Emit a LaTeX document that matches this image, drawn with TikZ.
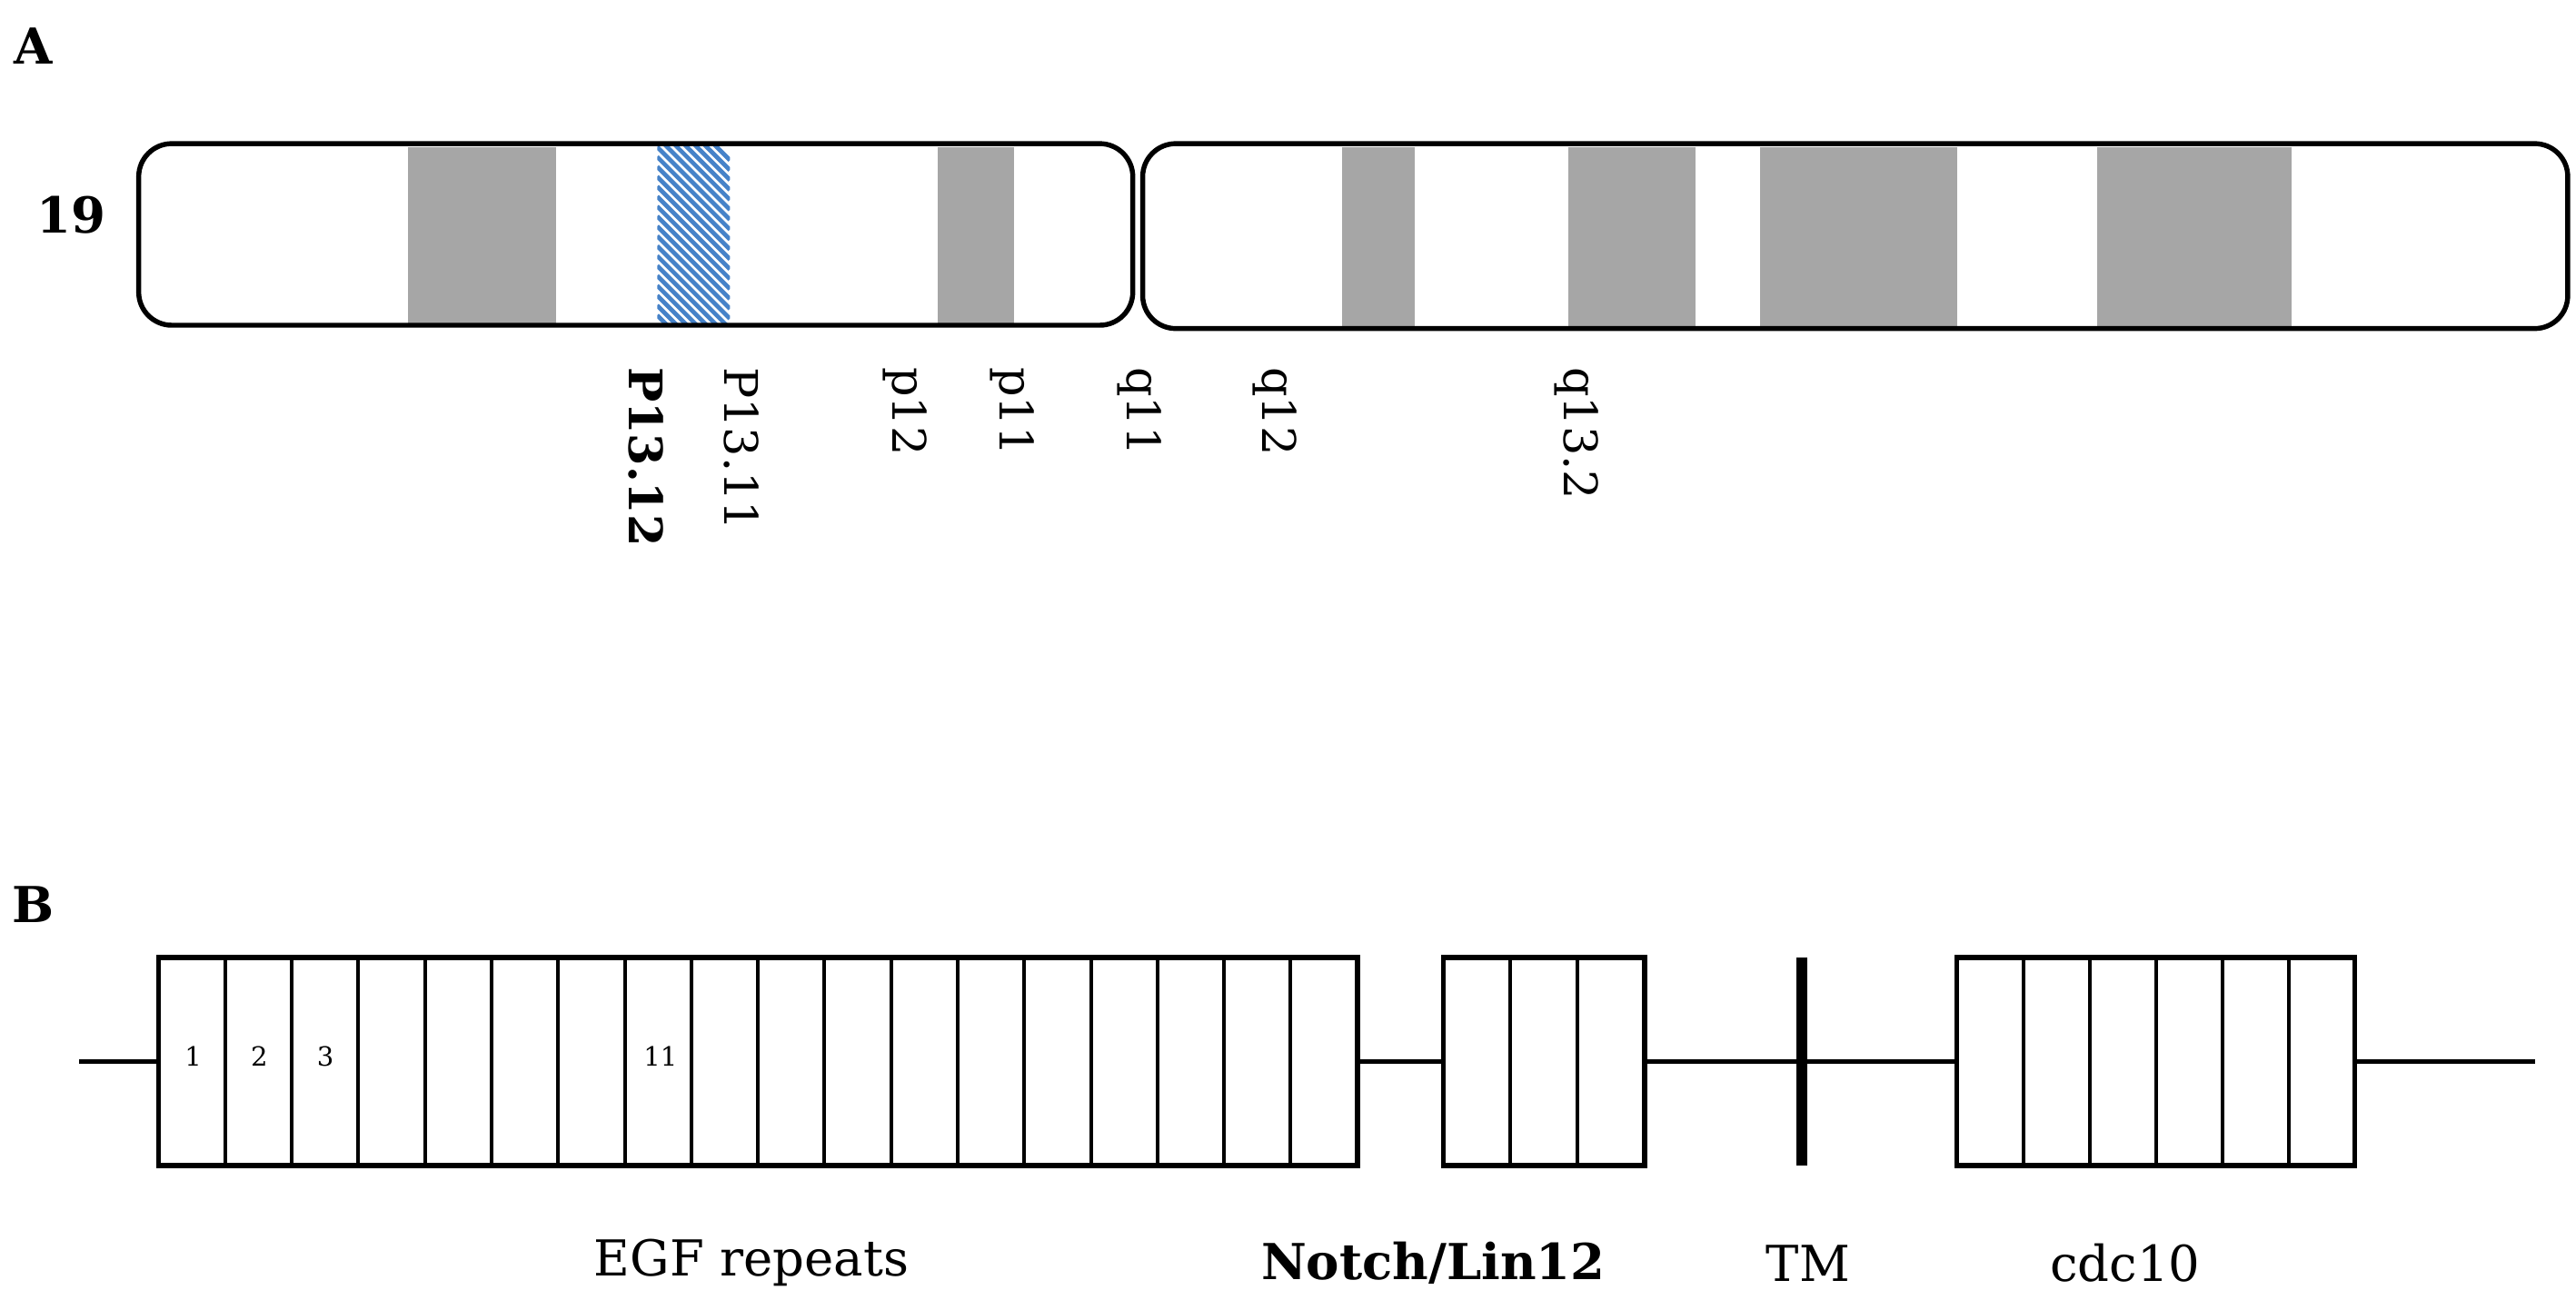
\documentclass[tikz,border=0pt]{standalone}
\usepackage{fontspec}
\setmainfont{DejaVu Serif}
\begin{document}
\begin{tikzpicture}[x=0.5pt,y=-0.5pt,
  arm/.style={line width=1.5pt,rounded corners=10pt},
  band/.style={fill=gray!70!white,draw=none},
  lab/.style={rotate=-90,anchor=west,inner sep=0pt,font=\fontsize{14}{16}\selectfont},
  dom/.style={line width=1.5pt,fill=white},
  div/.style={line width=1.1pt},
  num/.style={font=\fontsize{8}{9}\selectfont,inner sep=0pt},
  domlab/.style={font=\fontsize{15}{18}\selectfont,inner sep=0pt}]
\useasboundingbox (0,0) rectangle (1560,787);
\definecolor{hatch}{RGB}{70,130,200}
% Panel A
\node[font=\bfseries\fontsize{15}{18}\selectfont,inner sep=0pt] (A) at (20,28) {A};
\node[font=\bfseries\fontsize{15}{18}\selectfont,inner sep=0pt] (n19) at (43,130) {19};
\fill[band] (247,89) rectangle (337,196);
\fill[band] (568,89) rectangle (614,196);
\begin{scope}
\clip (398,89) rectangle (442,196);
\fill[white] (398,89) rectangle (442,196);
\foreach \k in {-6,...,30} {
  \draw[hatch,line width=1.3pt] (398,89+\k*6) -- (442,133+\k*6);
}
\end{scope}
\fill[band] (813,89) rectangle (857,198);
\fill[band] (950,89) rectangle (1027,198);
\fill[band] (1066,89) rectangle (1185,198);
\fill[band] (1270,89) rectangle (1388,198);
\draw[arm] (84,87) rectangle (686,197);
\draw[arm] (692,87) rectangle (1555,199);
\node[lab,font=\bfseries\fontsize{14}{16}\selectfont] (p1312) at (391,222) {P13.12};
\node[lab] (p1311) at (449,222) {P13.11};
\node[lab] (p12) at (548,222) {p12};
\node[lab] (p11) at (613,222) {p11};
\node[lab] (q11) at (690,222) {q11};
\node[lab] (q12) at (772,222) {q12};
\node[lab] (q132) at (955,222) {q13.2};
% Panel B
\node[font=\bfseries\fontsize{15}{18}\selectfont,inner sep=0pt] (B) at (20,548) {B};
\coordinate (L) at (48,643);
\coordinate (R) at (1535,643);
\draw[line width=1.5pt] (L) -- (R);
\draw[dom] (96,580) rectangle (822,706);
\foreach \i in {1,...,17} { \draw[div] (96+\i*40.33,580) -- (96+\i*40.33,706); }
\draw[dom] (874,580) rectangle (996,706);
\foreach \i in {1,2} { \draw[div] (874+\i*40.67,580) -- (874+\i*40.67,706); }
\draw[line width=3.2pt] (1091,580) -- (1091,706);
\draw[dom] (1185,580) rectangle (1426,706);
\foreach \i in {1,...,5} { \draw[div] (1185+\i*40.17,580) -- (1185+\i*40.17,706); }
\node[num] (e1) at (117,640) {1};
\node[num] (e2) at (157,640) {2};
\node[num] (e3) at (197,640) {3};
\node[num] (e11) at (400,640) {11};
\node[domlab] (egf) at (455,765) {EGF repeats};
\node[domlab,font=\bfseries\fontsize{15}{18}\selectfont] (notch) at (868,765) {Notch/Lin12};
\node[domlab] (tm) at (1095,765) {TM};
\node[domlab] (cdc) at (1287,765) {cdc10};
\end{tikzpicture}
\end{document}
